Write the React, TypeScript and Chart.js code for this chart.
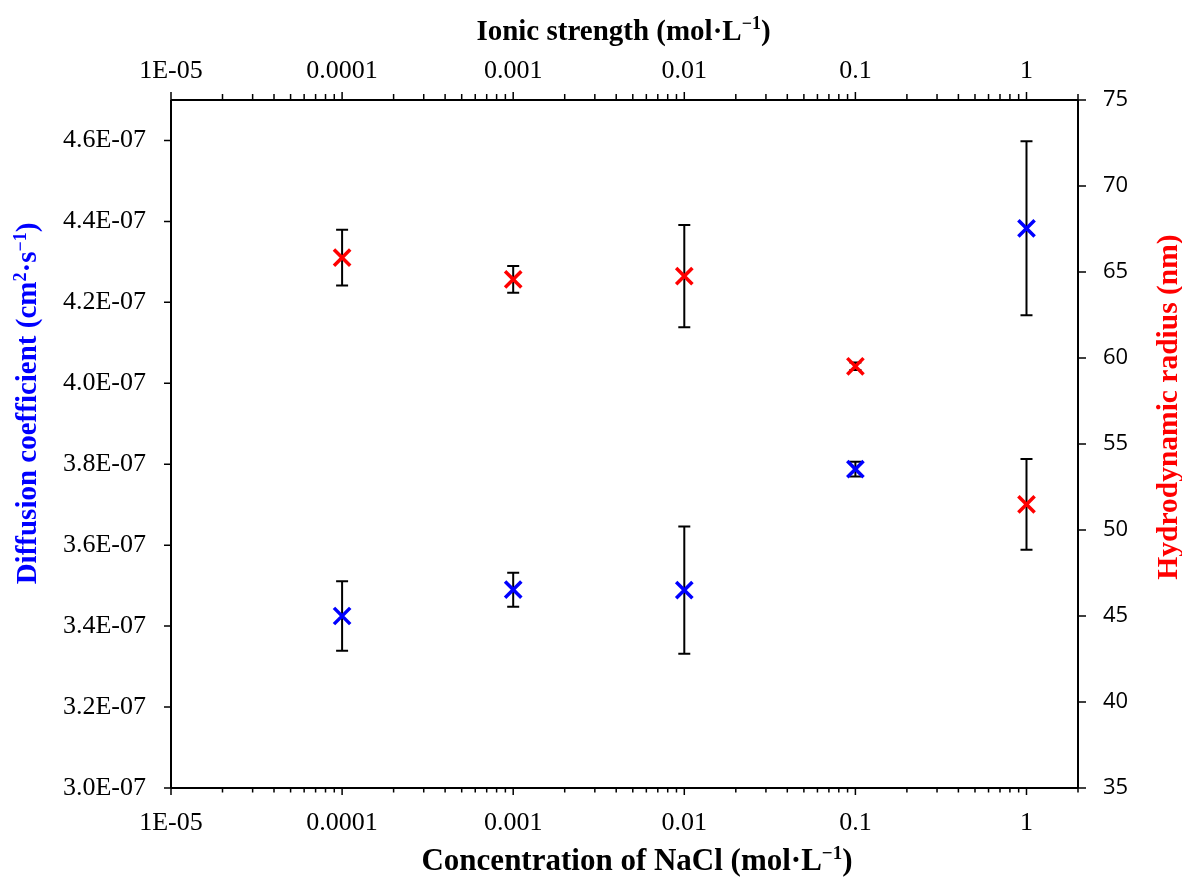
import React, { useEffect, useRef } from "react";
import { Chart, registerables } from "chart.js";

Chart.register(...registerables);

// ---- data ----
const concentrations = [0.0001, 0.001, 0.01, 0.1, 1];
const diffusionCoefficient = [3.425e-7, 3.49e-7, 3.489e-7, 3.788e-7, 4.383e-7];
const diffusionError = [0.086e-7, 0.042e-7, 0.157e-7, 0.018e-7, 0.215e-7];
const hydrodynamicRadius = [65.83, 64.57, 64.76, 59.52, 51.49];
const radiusError = [1.62, 0.78, 2.97, 0.22, 2.64];

// ---- ticks ----
const xTickValues = [1e-5, 1e-4, 1e-3, 1e-2, 1e-1, 1];
const xTickLabels = ["1E-05", "0.0001", "0.001", "0.01", "0.1", "1"];
const xMinorMultipliers = [2, 3, 4, 5, 6, 7, 8, 9];
const leftTickValues = [3.0e-7, 3.2e-7, 3.4e-7, 3.6e-7, 3.8e-7, 4.0e-7, 4.2e-7, 4.4e-7, 4.6e-7];
const leftTickLabels = ["3.0E-07", "3.2E-07", "3.4E-07", "3.6E-07", "3.8E-07", "4.0E-07", "4.2E-07", "4.4E-07", "4.6E-07"];
const rightTickValues = [35, 40, 45, 50, 55, 60, 65, 70, 75];
const rightTickLabels = ["35", "40", "45", "50", "55", "60", "65", "70", "75"];

// ---- titles ----
type Part = { text: string; sup?: boolean };
const bottomTitle: Part[] = [{ text: "Concentration of NaCl (mol·L" }, { text: "−1", sup: true }, { text: ")" }];
const topTitle: Part[] = [{ text: "Ionic strength (mol·L" }, { text: "−1", sup: true }, { text: ")" }];
const leftTitle: Part[] = [
  { text: "Diffusion coefficient (cm" },
  { text: "2", sup: true },
  { text: "·s" },
  { text: "−1", sup: true },
  { text: ")" },
];
const rightTitle: Part[] = [{ text: "Hydrodynamic radius (nm)" }];

const SERIF = "'Liberation Serif', 'Times New Roman', serif";
const SANS = "'Open Sans', 'Noto Sans', sans-serif";

function drawRichText(
  ctx: CanvasRenderingContext2D,
  parts: Part[],
  x: number,
  y: number,
  rotation: number,
  size: number,
  color: string
) {
  const normal = `bold ${size}px ${SERIF}`;
  const sup = `bold ${Math.round(size * 0.62)}px ${SERIF}`;
  const widths = parts.map((p) => {
    ctx.font = p.sup ? sup : normal;
    return ctx.measureText(p.text).width;
  });
  const total = widths.reduce((a, b) => a + b, 0);
  ctx.save();
  ctx.translate(x, y);
  ctx.rotate(rotation);
  ctx.fillStyle = color;
  ctx.textAlign = "left";
  ctx.textBaseline = "alphabetic";
  let cx = -total / 2;
  parts.forEach((p, i) => {
    ctx.font = p.sup ? sup : normal;
    ctx.fillText(p.text, cx, p.sup ? -size * 0.36 : 0);
    cx += widths[i];
  });
  ctx.restore();
}

const errorBarPlugin = {
  id: "errorBars",
  beforeDatasetsDraw(chart: any) {
    const { ctx, scales } = chart;
    const x = scales.x;
    ctx.save();
    ctx.strokeStyle = "#000";
    ctx.lineWidth = 2;
    const series = [
      { vals: diffusionCoefficient, errs: diffusionError, scale: scales.y },
      { vals: hydrodynamicRadius, errs: radiusError, scale: scales.y2 },
    ];
    series.forEach((s) => {
      concentrations.forEach((c, i) => {
        const px = x.getPixelForValue(c);
        const top = s.scale.getPixelForValue(s.vals[i] + s.errs[i]);
        const bot = s.scale.getPixelForValue(s.vals[i] - s.errs[i]);
        ctx.beginPath();
        ctx.moveTo(px, top);
        ctx.lineTo(px, bot);
        ctx.moveTo(px - 6, top);
        ctx.lineTo(px + 6, top);
        ctx.moveTo(px - 6, bot);
        ctx.lineTo(px + 6, bot);
        ctx.stroke();
      });
    });
    ctx.restore();
  },
};

const framePlugin = {
  id: "frameTicks",
  afterDraw(chart: any) {
    const { ctx, chartArea: a, scales } = chart;
    ctx.save();
    ctx.strokeStyle = "#000";
    ctx.lineWidth = 2;
    ctx.beginPath();
    ctx.moveTo(a.left, a.top);
    ctx.lineTo(a.right, a.top);
    ctx.moveTo(a.left, a.bottom);
    ctx.lineTo(a.right, a.bottom);
    ctx.moveTo(a.left, a.top);
    ctx.lineTo(a.left, a.bottom);
    ctx.moveTo(a.right, a.top);
    ctx.lineTo(a.right, a.bottom);
    ctx.stroke();

    ctx.lineWidth = 1.5;
    ctx.beginPath();
    const x = scales.x;
    xTickValues.forEach((v) => {
      const px = x.getPixelForValue(v);
      ctx.moveTo(px, a.bottom);
      ctx.lineTo(px, a.bottom + 7);
      ctx.moveTo(px, a.top);
      ctx.lineTo(px, a.top - 8);
      xMinorMultipliers.forEach((m) => {
        const mv = v * m;
        if (mv <= x.max + 1e-12) {
          const mp = x.getPixelForValue(mv);
          ctx.moveTo(mp, a.bottom);
          ctx.lineTo(mp, a.bottom + 4.5);
          ctx.moveTo(mp, a.top);
          ctx.lineTo(mp, a.top - 6);
        }
      });
    });
    leftTickValues.forEach((v) => {
      const py = scales.y.getPixelForValue(v);
      ctx.moveTo(a.left - 7, py);
      ctx.lineTo(a.left, py);
    });
    rightTickValues.forEach((v) => {
      const py = scales.y2.getPixelForValue(v);
      ctx.moveTo(a.right, py);
      ctx.lineTo(a.right + 8, py);
    });
    ctx.stroke();

    drawRichText(ctx, bottomTitle, 637, 870, 0, 31, "#000");
    drawRichText(ctx, topTitle, 623.5, 39.5, 0, 29, "#000");
    drawRichText(ctx, leftTitle, 36, 403.5, -Math.PI / 2, 29, "#0000ff");
    drawRichText(ctx, rightTitle, 1177, 407, -Math.PI / 2, 29.5, "#ff0000");
    ctx.restore();
  },
};

export default function App() {
  const canvasRef = useRef<HTMLCanvasElement | null>(null);

  useEffect(() => {
    const canvas = canvasRef.current;
    if (!canvas) return;
    const tickFont = { family: SERIF, size: 26 };
    const chart = new Chart(canvas, {
      type: "scatter",
      data: {
        datasets: [
          {
            label: "Diffusion coefficient",
            data: concentrations.map((c, i) => ({ x: c, y: diffusionCoefficient[i] })),
            xAxisID: "x",
            yAxisID: "y",
            pointStyle: "crossRot",
            pointRadius: 11.5,
            pointBorderWidth: 3.5,
            borderColor: "#0000ff",
            backgroundColor: "#0000ff",
            showLine: false,
          },
          {
            label: "Hydrodynamic radius",
            data: concentrations.map((c, i) => ({ x: c, y: hydrodynamicRadius[i] })),
            xAxisID: "x",
            yAxisID: "y2",
            pointStyle: "crossRot",
            pointRadius: 11.5,
            pointBorderWidth: 3.5,
            borderColor: "#ff0000",
            backgroundColor: "#ff0000",
            showLine: false,
          },
        ],
      },
      options: {
        responsive: false,
        animation: false,
        devicePixelRatio: 1,
        events: [],
        layout: { padding: 0 },
        plugins: { legend: { display: false }, tooltip: { enabled: false } },
        scales: {
          x: {
            type: "logarithmic",
            position: "bottom",
            min: 1e-5,
            max: 2,
            grid: { display: false, drawTicks: false },
            border: { display: false },
            afterBuildTicks: (s: any) => {
              s.ticks = xTickValues.map((v) => ({ value: v }));
            },
            afterFit: (s: any) => {
              s.height = 94;
            },
            ticks: {
              autoSkip: false,
              maxRotation: 0,
              padding: 20,
              color: "#000",
              font: tickFont,
              callback: (_v: any, i: number) => xTickLabels[i],
            },
          },
          x2: {
            type: "logarithmic",
            axis: "x",
            position: "top",
            min: 1e-5,
            max: 2,
            grid: { display: false, drawTicks: false },
            border: { display: false },
            afterBuildTicks: (s: any) => {
              s.ticks = xTickValues.map((v) => ({ value: v }));
            },
            afterFit: (s: any) => {
              s.height = 100;
            },
            ticks: {
              autoSkip: false,
              maxRotation: 0,
              padding: 13,
              color: "#000",
              font: tickFont,
              callback: (_v: any, i: number) => xTickLabels[i],
            },
          },
          y: {
            type: "linear",
            position: "left",
            min: 3.0e-7,
            max: 4.7e-7,
            grid: { display: false, drawTicks: false },
            border: { display: false },
            afterBuildTicks: (s: any) => {
              s.ticks = leftTickValues.map((v) => ({ value: v }));
            },
            afterFit: (s: any) => {
              s.width = 171;
            },
            ticks: {
              padding: 25,
              color: "#000",
              font: tickFont,
              callback: (_v: any, i: number) => leftTickLabels[i],
            },
          },
          y2: {
            type: "linear",
            axis: "y",
            position: "right",
            min: 35,
            max: 75,
            grid: { display: false, drawTicks: false },
            border: { display: false },
            afterBuildTicks: (s: any) => {
              s.ticks = rightTickValues.map((v) => ({ value: v }));
            },
            afterFit: (s: any) => {
              s.width = 104;
            },
            ticks: {
              padding: 25,
              color: "#000",
              font: { family: SANS, size: 22 },
              callback: (_v: any, i: number) => rightTickLabels[i],
            },
          },
        },
      },
      plugins: [errorBarPlugin, framePlugin],
    } as any);
    return () => chart.destroy();
  }, []);

  return (
    <div style={{ position: "absolute", left: 0, top: 0, width: 1182, height: 882, background: "#fff" }}>
      <canvas ref={canvasRef} width={1182} height={882} style={{ width: 1182, height: 882, display: "block" }} />
    </div>
  );
}
